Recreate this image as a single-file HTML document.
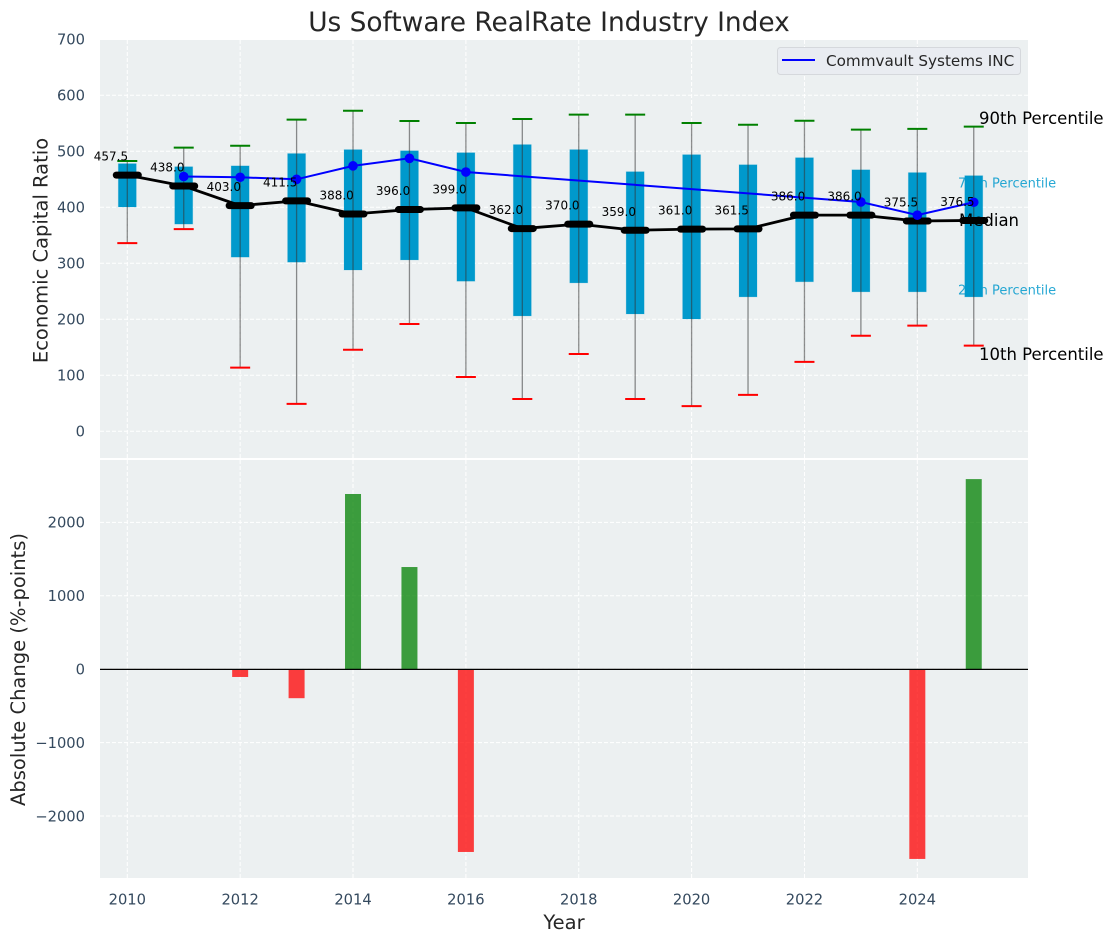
<!DOCTYPE html>
<html lang="en">
<head>
<meta charset="utf-8">
<title>Us Software RealRate Industry Index</title>
<style>
html,body{margin:0;padding:0;background:#fff;width:1114px;height:942px;overflow:hidden}
svg{display:block;font-family:"DejaVu Sans","Liberation Sans",sans-serif}
</style>
</head>
<body>
<svg id="chart" xmlns="http://www.w3.org/2000/svg" width="1114" height="942" viewBox="0 0 1114 942">
  <rect x="100" y="40" width="928" height="418" fill="#ecf0f1"/>
  <rect x="100" y="460" width="928" height="418" fill="#ecf0f1"/>
  <g id="grid"></g>
  <g id="under">
    <text x="958" y="187.5" font-size="13" fill="#0099cc" fill-opacity="0.85">75th Percentile</text>
    <text x="958" y="294.5" font-size="13" fill="#0099cc" fill-opacity="0.85">25th Percentile</text>
  </g>
  <g id="boxes"></g>
  <g id="whiskers"></g>
  <g id="median"></g>
  <g id="company"></g>
  <g id="labels"></g>
  <g id="bars"></g>
  <line x1="100" x2="1028" y1="669.4" y2="669.4" stroke="#000" stroke-width="1.3"/>
  <g id="ticks"></g>

  <text x="549" y="31" text-anchor="middle" font-size="26.4" fill="#262626">Us Software RealRate Industry Index</text>
  <text transform="translate(47.5,250.5) rotate(-90)" text-anchor="middle" font-size="19.5" fill="#262626">Economic Capital Ratio</text>
  <text transform="translate(25,669.5) rotate(-90)" text-anchor="middle" font-size="19.5" fill="#262626">Absolute Change (%-points)</text>
  <text x="564" y="929" text-anchor="middle" font-size="19.5" fill="#262626">Year</text>

  <text x="979" y="124" font-size="16.5" fill="#000">90th Percentile</text>
  <text x="959" y="226" font-size="16.5" fill="#000">Median</text>
  <text x="979" y="360" font-size="16.5" fill="#000">10th Percentile</text>

  <g>
    <rect x="777.5" y="47.5" width="243" height="27" rx="3" fill="#e9ecf1" stroke="#d5d8dc" stroke-width="1"/>
    <line x1="782" x2="815" y1="60" y2="60" stroke="#0000ff" stroke-width="2"/>
    <text x="826" y="66" font-size="15.2" fill="#262626">Commvault Systems INC</text>
  </g>
</svg>
<script>
const years = [2010,2011,2012,2013,2014,2015,2016,2017,2018,2019,2020,2021,2022,2023,2024,2025];
const p90 = [482.7,506.5,510,556.5,572.5,554,550.5,557.7,565.5,565.5,550.5,547.5,554.6,538.6,540,544];
const p75 = [478,472.5,474,496,503,501,497.5,512,503,463.6,494,476,488.6,467,462,456.5];
const p50 = [457.5,438,403,411.5,388,396,399,362,370,359,361,361.5,386,386,375.5,376.5];
const p25 = [400.5,370,311,302,288,306,268,206,265,209.5,200.5,240,267,249,249,240];
const p10 = [336,361,113.6,49,145.7,191.6,97,57.7,138,57.7,45,65,124,170.7,188.6,153];
const company = [null,455,453.6,450,474,487.5,463,null,null,null,null,null,null,409.5,386,409];
const changes = [null,null,-106,-395,2387,1392,-2490,null,null,null,null,null,null,null,-2585,2590];
const topTicks = [0,100,200,300,400,500,600,700];
const bottomTicks = [-2000,-1000,0,1000,2000];
const xTicks = [2010,2012,2014,2016,2018,2020,2022,2024];

const NS = 'http://www.w3.org/2000/svg';
const xPos = v => 127.3 + (v - 2010) * 56.43;
const yTop = v => 431.3 - v * 0.56;
const yBottom = v => 669.2 - v * 0.0734;

function make(tag, parentId, attrs, text) {
  const el = document.createElementNS(NS, tag);
  for (const k in attrs) el.setAttribute(k, attrs[k]);
  if (text !== undefined) el.textContent = text;
  document.getElementById(parentId).appendChild(el);
  return el;
}

/* grid */
topTicks.forEach(t => {
  const el = make('line', 'grid', {x1:100, x2:1028, y1:yTop(t), y2:yTop(t), stroke:'#fff', 'stroke-width':1, 'stroke-dasharray':'4 2'});
  
  
});
bottomTicks.forEach(t => {
  const el = make('line', 'grid', {x1:100, x2:1028, y1:yBottom(t), y2:yBottom(t), stroke:'#fff', 'stroke-width':1, 'stroke-dasharray':'4 2'});
  
  
});
xTicks.forEach(t => {
  const a = make('line', 'grid', {x1:xPos(t), x2:xPos(t), y1:40, y2:458, stroke:'#fff', 'stroke-width':1, 'stroke-dasharray':'4 2'});
  
  
  const b = make('line', 'grid', {x1:xPos(t), x2:xPos(t), y1:460, y2:878, stroke:'#fff', 'stroke-width':1, 'stroke-dasharray':'4 2'});
  
  
});

/* boxes, whiskers, caps */
years.forEach((yr, i) => {
  const x = xPos(yr);
  const box = make('rect', 'boxes', {x:x-9, y:yTop(p75[i]), width:18, height:yTop(p25[i])-yTop(p75[i]), fill:'#0099cc', stroke:'#0099cc', 'stroke-opacity':0.15, 'stroke-width':1});
  
  
  const w = make('line', 'whiskers', {x1:x, x2:x, y1:yTop(p90[i]), y2:yTop(p10[i]), stroke:'#333', 'stroke-opacity':0.55, 'stroke-width':1.3});
  
  
  const hi = make('line', 'whiskers', {x1:x-10, x2:x+10, y1:yTop(p90[i]), y2:yTop(p90[i]), stroke:'#008000', 'stroke-width':2});
  
  
  const lo = make('line', 'whiskers', {x1:x-10, x2:x+10, y1:yTop(p10[i]), y2:yTop(p10[i]), stroke:'#ff0000', 'stroke-width':2});
  
  
});

/* median */
const medianLine = make('polyline', 'median', {points:years.map((yr,i)=>xPos(yr)+','+yTop(p50[i])).join(' '), fill:'none', stroke:'#000', 'stroke-width':2.8, 'stroke-linejoin':'round'});


years.forEach((yr, i) => {
  const x = xPos(yr);
  const m = make('line', 'median', {x1:x-11, x2:x+11, y1:yTop(p50[i]), y2:yTop(p50[i]), stroke:'#000', 'stroke-width':7, 'stroke-linecap':'round'});
  
  
  const t = make('text', 'labels', {x:x+0.8, y:yTop(p50[i])-14.5, 'text-anchor':'end', 'font-size':12, fill:'#000'}, p50[i].toFixed(1));
  
  
});

/* company series */
const companyPts = years.map((yr,i)=>company[i]===null?null:xPos(yr)+','+yTop(company[i])).filter(Boolean).join(' ');
const companyLine = make('polyline', 'company', {points:companyPts, fill:'none', stroke:'#0000ff', 'stroke-width':2});


years.forEach((yr, i) => {
  if (company[i] === null) return;
  const c = make('circle', 'company', {cx:xPos(yr), cy:yTop(company[i]), r:4.8, fill:'#0000ff'});
  
  
});

/* change bars */
years.forEach((yr, i) => {
  const v = changes[i];
  if (v === null) return;
  const y0 = yBottom(0), y1 = yBottom(v);
  const bar = make('rect', 'bars', {x:xPos(yr)-8, y:Math.min(y0,y1), width:16, height:Math.abs(y1-y0), fill:v>=0?'#008000':'#ff0000', 'fill-opacity':0.75});
  
  
});

/* tick labels */
const tickColor = '#34495e';
topTicks.forEach(t => {
  const el = make('text', 'ticks', {x:85, y:yTop(t)+5.3, 'text-anchor':'end', 'font-size':14.7, fill:tickColor}, String(t));
  
  
});
bottomTicks.forEach(t => {
  const el = make('text', 'ticks', {x:85, y:yBottom(t)+5.3, 'text-anchor':'end', 'font-size':14.7, fill:tickColor}, String(t).replace('-', '\u2212'));
  
  
});
xTicks.forEach(t => {
  const el = make('text', 'ticks', {x:xPos(t), y:904.5, 'text-anchor':'middle', 'font-size':14.7, fill:tickColor}, String(t));
  
  
});
</script>
</body>
</html>
